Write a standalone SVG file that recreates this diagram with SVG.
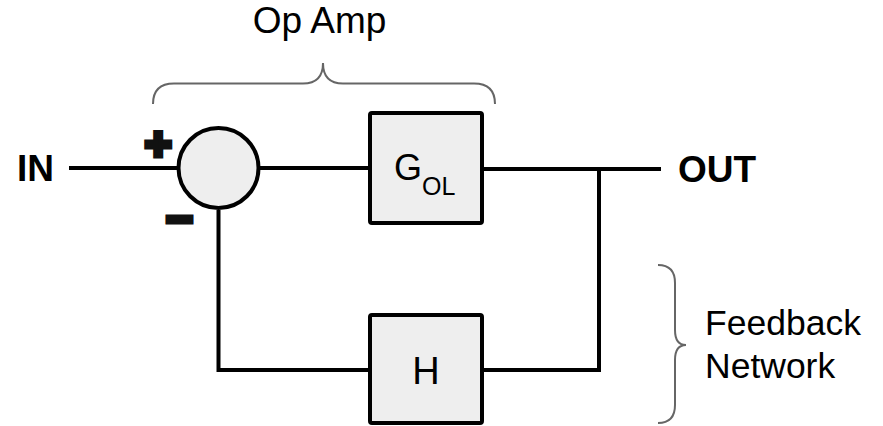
<svg xmlns="http://www.w3.org/2000/svg" width="883" height="426" viewBox="0 0 883 426">
<style>
.wire{fill:none;stroke:#000;stroke-width:4;stroke-linecap:butt;stroke-linejoin:miter}
.brace{fill:none;stroke:#666;stroke-width:2}
.blk{fill:#eeeeee;stroke:#000;stroke-width:4}
.lbl{font-family:"Liberation Sans",Arial,sans-serif;fill:#000}
.bold{font-weight:bold}
.sign{font-family:"Liberation Sans",Arial,sans-serif;font-weight:bold;fill:#000;stroke:#111;stroke-width:5;stroke-linejoin:miter;text-anchor:middle}
</style>
<rect width="883" height="426" fill="#fff"/>
<g id="connectors">
<path class="wire" d="M69,168 H177"/>
<path class="wire" d="M260,168 H370"/>
<path class="wire" d="M482,169 H661"/>
<path class="wire" d="M599,169 V370 H482"/>
<path class="wire" d="M218.5,210 V370 H370"/>
</g>
<g id="in"><text class="lbl bold" x="17" y="181" font-size="37">IN</text></g>
<g id="out"><text class="lbl bold" x="678" y="182" font-size="37">OUT</text></g>
<g id="sum">
<circle class="blk" cx="218.5" cy="168" r="40"/>
<text class="sign" x="158.3" y="160" font-size="46">+</text>
<text class="sign" x="179.5" y="234.5" font-size="46">−</text>
</g>
<g id="gol">
<rect class="blk" x="370" y="113" width="112" height="110" rx="2"/>
<text class="lbl" x="394" y="180" font-size="36">G<tspan font-size="25" dy="15">OL</tspan></text>
</g>
<g id="h">
<rect class="blk" x="370" y="315" width="112" height="108" rx="2"/>
<text class="lbl" x="426" y="384" font-size="38" text-anchor="middle">H</text>
</g>
<g id="opamp">
<path class="brace" d="M153,104 C153,90 160,83.5 174,83.5 L303,83.5 C316,83.5 323,77 323,63 C323,77 330,83.5 343,83.5 L474,83.5 C488,83.5 495,90 495,104"/>
<text class="lbl" x="319.5" y="33" font-size="37" text-anchor="middle">Op Amp</text>
</g>
<g id="feedback">
<path class="brace" d="M658,265 C670,265 675,271 675,283 L675,330 C675,340 679,345 686,345 C679,345 675,350 675,360 L675,405 C675,417 670,423 658,423"/>
<text class="lbl" x="705" y="335" font-size="35.5">Feedback</text>
<text class="lbl" x="705" y="378" font-size="35.5">Network</text>
</g>
</svg>
